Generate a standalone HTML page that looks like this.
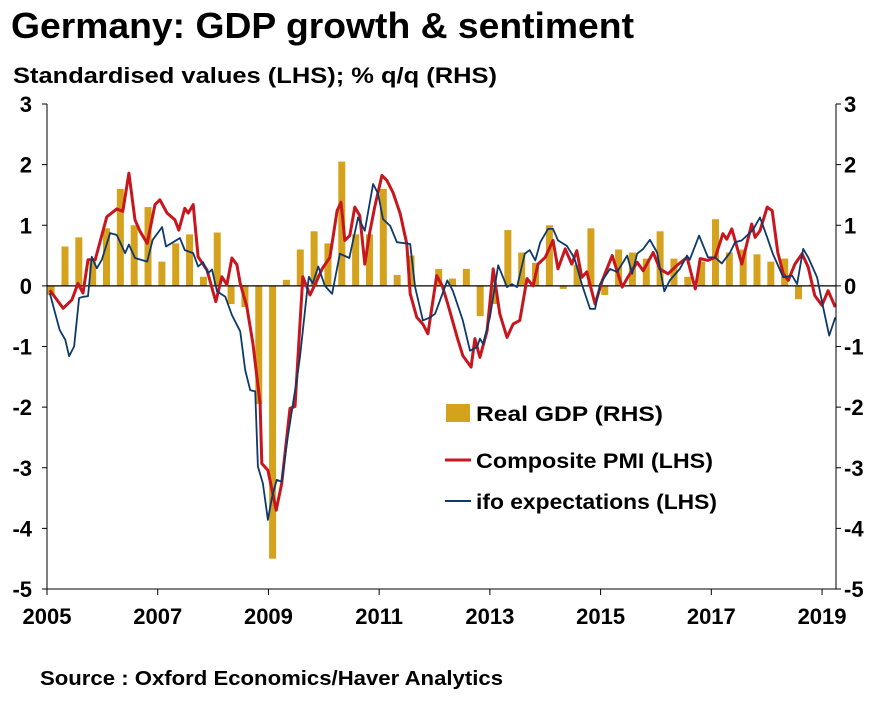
<!DOCTYPE html>
<html><head><meta charset="utf-8"><style>
body{margin:0;background:#fff;width:884px;height:706px;overflow:hidden;font-family:"Liberation Sans",Arial,sans-serif}
</style></head><body>
<svg id="chart" width="884" height="706" xmlns="http://www.w3.org/2000/svg" font-family="Liberation Sans, Arial, sans-serif">
<text x="11" y="38" font-size="36" font-weight="bold" fill="#000" textLength="623" lengthAdjust="spacingAndGlyphs">Germany: GDP growth &amp; sentiment</text>
<text x="13" y="83" font-size="22" font-weight="bold" fill="#000" textLength="484" lengthAdjust="spacingAndGlyphs">Standardised values (LHS); % q/q (RHS)</text>
<text x="40" y="685" font-size="20" font-weight="bold" fill="#000" textLength="463" lengthAdjust="spacingAndGlyphs">Source : Oxford Economics/Haver Analytics</text>
<g id="plot"></g>
<g>
<rect x="446" y="404" width="24" height="18" fill="#D4A21C"/>
<text x="476" y="421" font-size="21" font-weight="bold" textLength="187" lengthAdjust="spacingAndGlyphs">Real GDP (RHS)</text>
<line x1="445" y1="460" x2="471" y2="460" stroke="#C8161E" stroke-width="3"/>
<text x="476" y="468" font-size="21" font-weight="bold" textLength="237" lengthAdjust="spacingAndGlyphs">Composite PMI (LHS)</text>
<line x1="445" y1="501" x2="471" y2="501" stroke="#0D3A6B" stroke-width="2"/>
<text x="476" y="509" font-size="21" font-weight="bold" textLength="241" lengthAdjust="spacingAndGlyphs">ifo expectations (LHS)</text>
</g>
</svg>
<script>
const yTicks=[3,2,1,0,-1,-2,-3,-4,-5];
const xTickYears=[2005,2007,2009,2011,2013,2015,2017,2019];
const gdpValues=[-0.15,0.65,0.8,0.4,0.95,1.6,1.0,1.3,0.4,0.7,0.85,0.15,0.88,-0.3,-0.35,-1.95,-4.5,0.1,0.6,0.9,0.7,2.05,0.85,0.85,1.6,0.18,0.5,0.0,0.28,0.12,0.28,-0.5,-0.3,0.92,0.55,0.38,1.0,-0.05,0.35,0.95,-0.15,0.6,0.55,0.45,0.9,0.45,0.15,0.4,1.1,0.55,0.6,0.52,0.4,0.45,-0.22,0.02];
const pmiDates=[0.05,0.29,0.45,0.56,0.65,0.74,0.87,1.08,1.26,1.37,1.48,1.59,1.68,1.81,1.95,2.04,2.17,2.31,2.38,2.49,2.55,2.64,2.73,2.89,3.05,3.16,3.25,3.34,3.43,3.49,3.61,3.72,3.85,3.88,3.99,4.14,4.24,4.39,4.48,4.62,4.75,4.88,4.97,5.11,5.24,5.31,5.38,5.47,5.56,5.65,5.74,5.83,5.92,6.05,6.14,6.25,6.38,6.50,6.56,6.68,6.79,6.88,7.04,7.14,7.24,7.41,7.51,7.66,7.73,7.82,7.95,8.06,8.18,8.31,8.42,8.54,8.67,8.78,8.87,9.00,9.14,9.23,9.36,9.48,9.57,9.66,9.75,9.90,10.03,10.21,10.39,10.49,10.66,10.77,10.95,11.07,11.22,11.38,11.56,11.71,11.80,11.94,12.07,12.21,12.28,12.37,12.55,12.73,12.79,12.88,13.01,13.10,13.20,13.30,13.39,13.51,13.64,13.75,13.87,14.00,14.11,14.24];
const pmiValues=[-0.07,-0.37,-0.23,0.04,-0.12,0.43,0.43,1.14,1.27,1.23,1.86,1.09,0.9,0.7,1.34,1.42,1.2,1.09,0.92,1.28,1.2,1.34,0.48,0.26,-0.26,0.15,0.02,0.46,0.35,0.04,-0.34,-0.95,-1.94,-2.93,-3.04,-3.7,-3.26,-2.02,-1.99,0.15,-0.15,0.1,0.28,0.47,1.24,1.38,0.75,0.83,1.3,1.16,0.36,0.88,1.3,1.82,1.74,1.54,1.19,0.69,-0.13,-0.52,-0.63,-0.79,0.17,0.0,-0.3,-0.85,-1.15,-1.34,-0.87,-1.18,-0.74,0.28,-0.46,-0.85,-0.63,-0.57,0.12,0.0,0.36,0.47,0.75,0.28,0.61,0.36,0.58,0.14,0.23,-0.3,0.09,0.5,-0.02,0.14,0.39,0.25,0.55,0.28,0.2,0.34,0.47,-0.05,0.45,0.42,0.47,0.86,0.77,0.94,0.36,1.02,0.8,0.91,1.3,1.24,0.55,0.2,0.09,0.36,0.53,0.31,-0.16,-0.32,-0.08,-0.35];
const ifoDates=[0.05,0.23,0.33,0.40,0.49,0.58,0.65,0.74,0.81,0.90,0.99,1.14,1.26,1.41,1.48,1.59,1.81,1.91,2.08,2.15,2.28,2.40,2.49,2.64,2.73,2.82,2.91,2.98,3.07,3.22,3.34,3.49,3.58,3.67,3.76,3.81,3.90,3.99,4.06,4.15,4.24,4.35,4.52,4.57,4.70,4.73,4.80,4.90,5.02,5.15,5.29,5.46,5.62,5.74,5.89,5.98,6.07,6.20,6.32,6.56,6.65,6.79,6.92,7.01,7.23,7.33,7.51,7.64,7.77,7.82,7.88,8.00,8.15,8.31,8.40,8.49,8.63,8.72,8.82,8.91,9.05,9.14,9.23,9.39,9.50,9.54,9.66,9.81,9.90,9.99,10.17,10.30,10.48,10.57,10.66,10.77,10.89,11.02,11.15,11.25,11.43,11.56,11.61,11.78,11.94,12.07,12.19,12.34,12.43,12.55,12.75,12.88,13.01,13.11,13.30,13.46,13.55,13.66,13.75,13.91,14.02,14.13,14.24];
const ifoValues=[-0.12,-0.73,-0.89,-1.16,-1.0,-0.2,-0.18,-0.17,0.48,0.29,0.43,0.87,0.84,0.54,0.68,0.46,0.4,0.76,0.97,0.65,0.72,0.79,0.59,0.54,0.32,0.39,0.21,0.27,-0.09,-0.18,-0.48,-0.75,-1.39,-1.72,-1.74,-2.98,-3.26,-3.86,-3.5,-3.2,-3.23,-2.49,-1.5,-1.17,-0.07,0.15,0.04,0.32,0.0,-0.13,0.53,0.46,1.13,0.91,1.68,1.52,1.1,0.99,0.72,0.69,-0.02,-0.57,-0.52,-0.46,0.09,-0.08,-0.57,-1.07,-1.01,-0.87,-0.96,-0.52,0.34,-0.02,0.03,-0.02,0.53,0.59,0.42,0.72,0.94,0.94,0.75,0.66,0.5,0.42,0.03,-0.38,-0.38,0.03,0.28,0.23,0.5,0.2,0.53,0.61,0.76,0.55,-0.09,0.09,0.28,0.5,0.43,0.83,0.47,0.47,0.37,0.55,0.72,0.75,0.92,1.13,0.8,0.53,0.14,0.17,0.03,0.61,0.47,0.14,-0.35,-0.82,-0.52];

const L=47,R=836,T=104,B=589;
const xScale=t=>L+t*55.36;
const yScale=v=>T+(3-v)*(B-T)/8;
const NS='http://www.w3.org/2000/svg';
const g=document.getElementById('plot');
function mk(tag,attrs){const e=document.createElementNS(NS,tag);for(const k in attrs)e.setAttribute(k,attrs[k]);g.appendChild(e);return e;}

gdpValues.forEach((v,i)=>{
  const cx=xScale((i+0.3)/4);
  const y0=yScale(0),y1=yScale(v);
  const r=mk('rect',{x:cx-3.5,y:Math.min(y0,y1),width:7,height:Math.max(0.5,Math.abs(y1-y0)),fill:'#D4A21C'});
  
  
});
const zl=mk('line',{x1:L,x2:R,y1:yScale(0),y2:yScale(0),stroke:'#000','stroke-width':1.2});



function series(dates,vals,color,w,name){
  const d=dates.map((t,i)=>(i?'L':'M')+xScale(t).toFixed(1)+','+yScale(vals[i]).toFixed(1)).join('');
  const p=mk('path',{d:d,fill:'none',stroke:color,'stroke-width':w,'stroke-linejoin':'round'});
  
  
}
series(pmiDates,pmiValues,'#C8161E',3,'pmi-line');
series(ifoDates,ifoValues,'#0D3A6B',1.8,'ifo-line');

const la=mk('line',{x1:L,x2:L,y1:T,y2:B,stroke:'#000','stroke-width':1});


const ra=mk('line',{x1:R,x2:R,y1:T,y2:B,stroke:'#000','stroke-width':1});


const ba=mk('line',{x1:L,x2:R,y1:B,y2:B,stroke:'#000','stroke-width':1});


yTicks.forEach(v=>{
  const y=yScale(v);
  mk('line',{x1:L-5,x2:L,y1:y,y2:y,stroke:'#000'});
  mk('line',{x1:R,x2:R+5,y1:y,y2:y,stroke:'#000'});
  const tl=mk('text',{x:32,y:y+8,'font-size':22,'font-weight':'bold','text-anchor':'end'});tl.textContent=v;
  
  
  const tr=mk('text',{x:844,y:y+8,'font-size':22,'font-weight':'bold'});tr.textContent=v;
  
  
});
xTickYears.forEach(yr=>{
  const x=xScale(yr-2005);
  mk('line',{x1:x,x2:x,y1:B,y2:B+6,stroke:'#000'});
  const t=mk('text',{x:x,y:624,'font-size':22,'font-weight':'bold','text-anchor':'middle'});t.textContent=yr;
  
  
});
</script>
</body></html>
